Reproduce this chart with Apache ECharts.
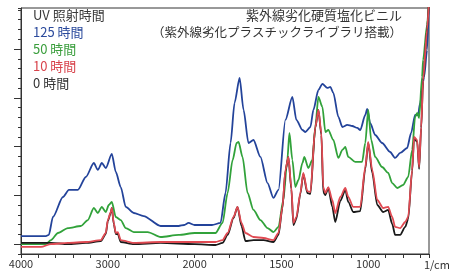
<!DOCTYPE html>
<html>
<head>
<meta charset="utf-8">
<script src="https://cdn.jsdelivr.net/npm/echarts@6/dist/echarts.min.js"></script>
<style>
  html, body { margin: 0; padding: 0; background: #fff; }
  #chart { width: 454px; height: 271px; }
</style>
</head>
<body>
<div id="chart"></div>
<script>
// wavenumber (1/cm) and absorbance (minor tick units)
var wn125 = [4000, 3713, 3680, 3632, 3517, 3448, 3345, 3253, 3161, 3115, 3069, 3023, 2954, 2908, 2851, 2793, 2701, 2587, 2391, 2184, 2120, 2070, 2000, 1900, 1851, 1822, 1793, 1770, 1741, 1718, 1690, 1661, 1621, 1580, 1546, 1517, 1477, 1437, 1414, 1379, 1362, 1333, 1316, 1287, 1264, 1236, 1218, 1201, 1172, 1149, 1121, 1092, 1063, 1046, 1017, 1006, 989, 960, 920, 874, 845, 816, 776, 753, 730, 713, 701, 678, 661, 650];
var abs125 = [1.84, 1.84, 1.95, 3.79, 5.84, 6.56, 6.56, 7.89, 9.32, 8.61, 9.32, 8.81, 10.25, 8.40, 6.86, 4.82, 4.20, 3.89, 2.87, 2.87, 2.97, 3.18, 2.97, 2.97, 3.18, 6.25, 11.37, 15.47, 18.03, 14.75, 11.37, 11.68, 9.94, 7.27, 5.74, 6.56, 13.73, 16.09, 13.73, 12.70, 12.50, 13.01, 14.75, 16.80, 17.42, 17.01, 17.11, 16.50, 14.04, 13.01, 13.22, 13.11, 12.91, 12.70, 14.24, 14.86, 13.42, 12.19, 11.37, 10.45, 9.84, 10.35, 10.86, 12.40, 14.24, 14.24, 15.47, 18.14, 20.9, 26];

var wn50 = [4000, 3713, 3655, 3574, 3460, 3310, 3230, 3161, 3115, 3069, 3023, 2989, 2954, 2908, 2851, 2793, 2701, 2540, 2391, 2184, 2000, 1880, 1839, 1810, 1781, 1758, 1747, 1724, 1695, 1661, 1621, 1580, 1546, 1517, 1489, 1466, 1454, 1437, 1420, 1402, 1379, 1368, 1345, 1322, 1305, 1287, 1264, 1247, 1230, 1201, 1172, 1149, 1132, 1115, 1075, 1035, 1017, 1000, 983, 960, 920, 885, 862, 833, 799, 770, 747, 730, 718, 707, 690, 684, 661, 650];
var abs50 = [1.02, 1.02, 1.43, 2.15, 2.66, 2.87, 3.48, 4.71, 4.20, 4.82, 4.30, 5.02, 5.33, 3.79, 3.48, 2.66, 2.25, 2.25, 1.74, 1.95, 2.15, 2.15, 3.18, 6.25, 9.63, 11.37, 11.48, 9.94, 6.25, 4.51, 3.48, 2.66, 2.25, 2.77, 5.53, 9.63, 12.40, 9.63, 6.86, 7.58, 9.32, 9.94, 8.81, 9.63, 13.01, 16.09, 15.06, 12.50, 12.70, 11.68, 9.84, 10.66, 10.96, 9.94, 9.43, 9.43, 11.37, 14.75, 11.68, 9.94, 8.91, 8.30, 7.27, 6.76, 7.07, 7.89, 10.66, 14.04, 14.45, 13.93, 18.14, 19.88, 23.5, 26];

var wn10 = [4000, 3770, 3655, 3460, 3253, 3080, 3023, 3000, 2966, 2954, 2931, 2908, 2885, 2851, 2700, 2391, 2000, 1880, 1839, 1810, 1776, 1753, 1730, 1707, 1661, 1603, 1546, 1517, 1494, 1477, 1460, 1443, 1431, 1414, 1391, 1374, 1351, 1333, 1305, 1287, 1270, 1259, 1247, 1230, 1207, 1190, 1161, 1132, 1115, 1086, 1046, 1017, 1000, 977, 948, 914, 885, 862, 845, 816, 787, 770, 747, 736, 718, 707, 695, 684, 661, 650];
var abs10 = [0.72, 0.72, 1.02, 1.13, 1.23, 1.43, 2.15, 3.48, 4.30, 4.71, 3.18, 2.15, 2.25, 1.43, 1.13, 1.23, 1.23, 1.23, 1.43, 2.15, 3.79, 4.82, 3.18, 2.15, 1.74, 1.64, 1.43, 2.15, 4.82, 8.61, 9.94, 6.86, 3.18, 3.79, 6.25, 8.30, 6.45, 6.35, 13.01, 14.75, 12.40, 6.86, 6.25, 6.86, 5.53, 4.20, 5.84, 6.76, 5.84, 4.82, 4.82, 8.91, 11.48, 8.61, 5.53, 4.71, 4.82, 3.79, 2.77, 2.66, 3.28, 3.79, 8.61, 11.99, 11.68, 8.91, 13.01, 17.83, 23, 26];

var wn0 = wn10;
var abs0 = [1.13, 1.13, 1.13, 1.02, 1.13, 1.33, 2.05, 3.38, 4.20, 4.71, 3.08, 2.05, 2.05, 1.23, 1.02, 1.13, 1.02, 0.92, 1.13, 1.95, 3.69, 4.82, 2.87, 1.33, 1.43, 1.43, 1.23, 1.95, 4.72, 8.51, 9.94, 6.66, 2.97, 3.59, 6.15, 8.20, 6.25, 6.15, 12.91, 14.75, 12.20, 6.35, 6.04, 6.76, 4.82, 3.28, 5.43, 6.56, 5.33, 4.30, 4.40, 8.71, 11.38, 8.30, 5.02, 4.30, 4.51, 3.08, 1.95, 1.95, 2.77, 3.59, 8.51, 11.89, 11.48, 8.71, 12.91, 17.73, 23, 26];

var legendNames = ['UV 照射時間', '125 時間', '50 時間', '10 時間', '0 時間'];
var legendColors = ['#3a3a3a', '#2b4a9c', '#3a9e3c', '#d8434b', '#333333'];
var titleLines = ['紫外線劣化硬質塩化ビニル', '（紫外線劣化プラスチックライブラリ搭載）'];
var xTickLabels = [4000, 3000, 2000, 1500, 1000];
var majorTicksY = [1, 6, 11, 16, 21];

// above 2000 the axis is compressed by 2
function toU(w) {
  return w >= 2000 ? (4000 - w) / 2 : 1000 + (2000 - w);
}
function fromU(u) {
  return u <= 1000 ? 4000 - 2 * u : 2000 - (u - 1000);
}
function pairs(wn, ab) {
  var out = [];
  for (var i = 0; i < wn.length; i++) out.push([toU(wn[i]), ab[i]]);
  return out;
}

var chart = echarts.init(document.getElementById('chart'));
var font = '"Noto Sans CJK JP", "Noto Sans", sans-serif';

var graphics = [];
for (var i = 0; i < legendNames.length; i++) {
  graphics.push({
    type: 'text', left: 33, top: 9 + i * 16.8,
    style: { text: legendNames[i], fill: legendColors[i], font: '13px ' + font }
  });
}
graphics.push({
  type: 'text', right: 52, top: 9,
  style: { text: titleLines[0], fill: '#333', font: '13px ' + font, align: 'right' }
});
graphics.push({
  type: 'text', right: 52, top: 25.5,
  style: { text: titleLines[1], fill: '#333', font: '12.5px ' + font, align: 'right' }
});
graphics.push({
  type: 'text', left: 424, top: 259,
  style: { text: '1/cm', fill: '#333', font: '11px ' + font }
});

function lineSeries(name, data, color) {
  return {
    name: name, type: 'line', data: data,
    showSymbol: false, smooth: 0.25, smoothMonotone: 'x',
    lineStyle: { color: color, width: 1.8 },
    itemStyle: { color: color },
    animation: false, clip: true
  };
}

var option = {
  backgroundColor: '#fff',
  animation: false,
  grid: {
    left: 21, right: 25, top: 8, bottom: 17,
    show: true, borderColor: '#333', borderWidth: 1
  },
  xAxis: {
    type: 'value',
    min: 0, max: toU(650), interval: 100,
    axisLine: { lineStyle: { color: '#333' } },
    axisTick: { length: 4, lineStyle: { color: '#333' } },
    splitLine: { show: false },
    axisLabel: {
      color: '#333', fontSize: 11, fontFamily: font, margin: 4,
      formatter: function (u) {
        var w = Math.round(fromU(u));
        return xTickLabels.indexOf(w) >= 0 && u % 500 === 0 ? String(w) : '';
      }
    }
  },
  yAxis: [{
    type: 'value',
    min: 0, max: 25.2, interval: 1,
    axisLine: { show: true, lineStyle: { color: '#333' } },
    axisTick: { show: true, length: 3, lineStyle: { color: '#333' } },
    axisLabel: { show: false },
    splitLine: { show: false }
  }, {
    type: 'value', position: 'left',
    min: 0, max: 25.2,
    axisLine: { show: false },
    axisTick: { show: true, length: 7, customValues: majorTicksY, lineStyle: { color: '#333' } },
    axisLabel: { show: false },
    splitLine: { show: false }
  }],
  graphic: graphics,
  series: [
    lineSeries('125 時間', pairs(wn125, abs125), '#23439a'),
    lineSeries('50 時間', pairs(wn50, abs50), '#31a23a'),
    lineSeries('0 時間', pairs(wn0, abs0), '#1a1a1a'),
    lineSeries('10 時間', pairs(wn10, abs10), '#e04a52')
  ]
};

chart.setOption(option);
</script>
</body>
</html>
